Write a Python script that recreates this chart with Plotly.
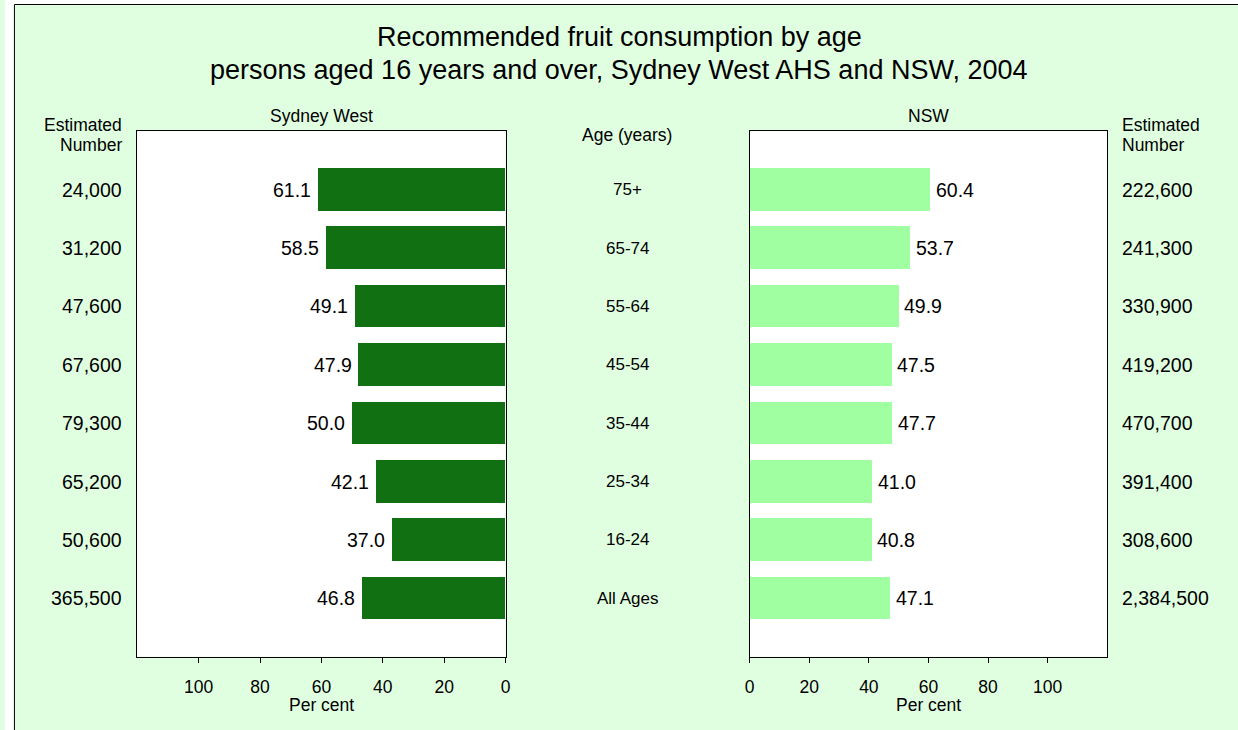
import plotly.graph_objects as go

# ---- data ----
age_groups = ["All Ages", "16-24", "25-34", "35-44", "45-54", "55-64", "65-74", "75+"]
sydney_west_pct = [46.8, 37.0, 42.1, 50.0, 47.9, 49.1, 58.5, 61.1]
nsw_pct = [47.1, 40.8, 41.0, 47.7, 47.5, 49.9, 53.7, 60.4]
sydney_west_num = ["365,500", "50,600", "65,200", "79,300", "67,600", "47,600", "31,200", "24,000"]
nsw_num = ["2,384,500", "308,600", "391,400", "470,700", "419,200", "330,900", "241,300", "222,600"]
tick_vals = [0, 20, 40, 60, 80, 100]
title_lines = ["Recommended fruit consumption by age",
               "persons aged 16 years and over, Sydney West AHS and NSW, 2004"]

W, H = 1238, 730
FONT = "Liberation Sans, Arial, sans-serif"
BG = "#E0FFE0"
DARK = "#117011"
LIGHT = "#A0FFA0"


def px(x):
    return x / W


def py(y):
    return 1 - y / H


fig = go.Figure()
fig.add_trace(go.Bar(y=age_groups, x=sydney_west_pct, orientation="h",
                     marker=dict(color=DARK, line=dict(width=0)), width=0.73,
                     xaxis="x", yaxis="y", hoverinfo="x+y", showlegend=False))
fig.add_trace(go.Bar(y=age_groups, x=nsw_pct, orientation="h",
                     marker=dict(color=LIGHT, line=dict(width=0)), width=0.73,
                     xaxis="x2", yaxis="y2", hoverinfo="x+y", showlegend=False))

ydom = [py(656.7), py(131.3)]
common_x = dict(tickmode="array", tickvals=tick_vals,
                ticks="outside", ticklen=5, tickcolor="black", tickwidth=1,
                showline=True, linecolor="black", linewidth=1, mirror=True,
                showgrid=False, zeroline=False, fixedrange=True,
                tickfont=dict(family=FONT, size=17.5, color="black"),
                ticklabelstandoff=9)
common_y = dict(type="category", categoryorder="array", categoryarray=age_groups,
                range=[-1, 8], showticklabels=False, ticks="",
                showline=True, linecolor="black", linewidth=1, mirror=True,
                showgrid=False, zeroline=False, fixedrange=True, domain=ydom)

fig.update_layout(
    width=W, height=H,
    margin=dict(l=0, r=0, t=0, b=0),
    paper_bgcolor=BG, plot_bgcolor="white",
    bargap=0,
    font=dict(family=FONT, color="black"),
    xaxis=dict(common_x, range=[120, 0], domain=[px(133.3), px(504.7)], anchor="y"),
    yaxis=dict(common_y, anchor="x"),
    xaxis2=dict(common_x, range=[0, 120], domain=[px(750.7), px(1111.3)], anchor="y2"),
    yaxis2=dict(common_y, anchor="x2"),
)

ann = []
# titles
for line, yy in zip(title_lines, (37, 70)):
    ann.append(dict(text=line, x=px(619), y=py(yy), xref="paper", yref="paper",
                    xanchor="center", yanchor="middle", showarrow=False,
                    font=dict(family=FONT, size=27, color="black")))
# panel titles
ann.append(dict(text="Sydney West", x=px(319), y=py(116), xref="paper", yref="paper",
                xanchor="center", yanchor="middle", showarrow=False, font=dict(size=17.5)))
ann.append(dict(text="NSW", x=px(931), y=py(116), xref="paper", yref="paper",
                xanchor="center", yanchor="middle", showarrow=False, font=dict(size=17.5)))
ann.append(dict(text="Age (years)", x=px(627.5), y=py(135), xref="paper", yref="paper",
                xanchor="center", yanchor="middle", showarrow=False, font=dict(size=17.5)))
# Estimated Number headers
for word, yy in (("Estimated", 125), ("Number", 145)):
    ann.append(dict(text=word, x=px(120), y=py(yy), xref="paper", yref="paper",
                    xanchor="right", yanchor="middle", showarrow=False, font=dict(size=17.5)))
    ann.append(dict(text=word, x=px(1124), y=py(yy), xref="paper", yref="paper",
                    xanchor="left", yanchor="middle", showarrow=False, font=dict(size=17.5)))
# axis titles
ann.append(dict(text="Per cent", x=px(319), y=py(705), xref="paper", yref="paper",
                xanchor="center", yanchor="middle", showarrow=False, font=dict(size=17.5)))
ann.append(dict(text="Per cent", x=px(931), y=py(705), xref="paper", yref="paper",
                xanchor="center", yanchor="middle", showarrow=False, font=dict(size=17.5)))

for i, ag in enumerate(age_groups):
    # estimated numbers
    ann.append(dict(text=sydney_west_num[i], x=px(120), y=ag, xref="paper", yref="y",
                    xanchor="right", yanchor="middle", showarrow=False, font=dict(size=19.5)))
    ann.append(dict(text=nsw_num[i], x=px(1124), y=ag, xref="paper", yref="y2",
                    xanchor="left", yanchor="middle", showarrow=False, font=dict(size=19.5)))
    # age labels
    ann.append(dict(text=ag, x=px(627.5), y=ag, xref="paper", yref="y",
                    xanchor="center", yanchor="middle", showarrow=False, font=dict(size=17)))
    # value labels
    ann.append(dict(text=f"{sydney_west_pct[i]:.1f}", x=sydney_west_pct[i], y=ag, xref="x", yref="y",
                    xanchor="right", yanchor="middle", xshift=-5, showarrow=False, font=dict(size=19.5)))
    ann.append(dict(text=f"{nsw_pct[i]:.1f}", x=nsw_pct[i], y=ag, xref="x2", yref="y2",
                    xanchor="left", yanchor="middle", xshift=4, showarrow=False, font=dict(size=19.5)))

fig.update_layout(annotations=ann)

# outer frame: white margin left/top, black border lines
shapes = [
    dict(type="rect", xref="paper", yref="paper", x0=0, x1=px(9.5), y0=-0.01, y1=1.01,
         fillcolor="white", line=dict(width=0), layer="above"),
    dict(type="rect", xref="paper", yref="paper", x0=0, x1=1.01, y0=py(4.5), y1=1.01,
         fillcolor="white", line=dict(width=0), layer="above"),
    dict(type="line", xref="paper", yref="paper", x0=px(9.5), x1=px(9.5), y0=-0.01, y1=py(4.5),
         line=dict(color="black", width=1)),
    dict(type="line", xref="paper", yref="paper", x0=px(9.5), x1=1.01, y0=py(4.5), y1=py(4.5),
         line=dict(color="black", width=1)),
]
fig.update_layout(shapes=shapes)

fig.write_html("out.html",
               config={"displayModeBar": False},
               post_script="document.body.style.margin='0';document.body.style.overflow='hidden';")
